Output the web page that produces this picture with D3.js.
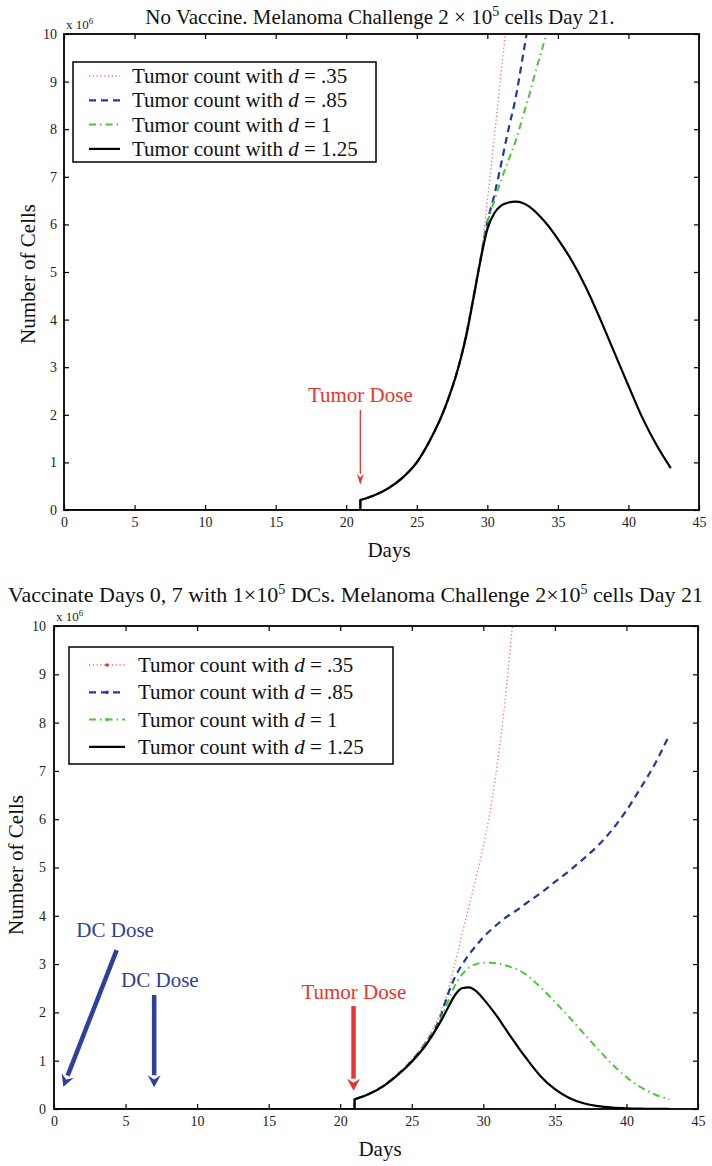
<!DOCTYPE html>
<html>
<head>
<meta charset="utf-8">
<script src="https://d3js.org/d3.v7.min.js"></script>
<style>
  body { margin: 0; background: #fff; }
  svg text { font-family: "Liberation Serif", "DejaVu Serif", serif; }
</style>
</head>
<body>
<svg id="svg"></svg>
<script>
// ---------------------------------------------------- data (values in 1e6 cells)
var xTicks = [0, 5, 10, 15, 20, 25, 30, 35, 40, 45];
var yTicks = [0, 1, 2, 3, 4, 5, 6, 7, 8, 9, 10];
var dValues = [".35", ".85", "1", "1.25"];
var doseDay = 21;

// - top panel: no vaccine
var topDays  = [21, 22, 23, 24, 25, 26, 27, 28, 28.5, 29, 29.5, 30, 30.5, 31, 31.5, 32, 32.5, 33, 33.5, 34, 34.5, 35, 36, 37, 38, 39, 40, 41, 42, 43];
var topD035  = [0.21, 0.31, 0.46, 0.68, 1.0, 1.5, 2.15, 3.08, 3.72, 4.5, 5.25, 6.5, 7.85, 9.25, 10.7, null, null, null, null, null, null, null, null, null, null, null, null, null, null, null];
var topD085  = [0.21, 0.31, 0.46, 0.68, 1.0, 1.5, 2.15, 3.06, 3.68, 4.45, 5.25, 6.05, 6.62, 7.3, 8.0, 8.65, 9.5, 10.4, null, null, null, null, null, null, null, null, null, null, null, null];
var topD1    = [0.21, 0.31, 0.46, 0.68, 1.0, 1.5, 2.15, 3.06, 3.68, 4.45, 5.25, 6.02, 6.5, 6.95, 7.35, 7.75, 8.25, 8.75, 9.3, 9.8, 10.3, null, null, null, null, null, null, null, null, null];
var topD125  = [0.21, 0.31, 0.46, 0.68, 1.0, 1.5, 2.15, 3.05, 3.65, 4.42, 5.22, 5.9, 6.24, 6.4, 6.46, 6.48, 6.45, 6.37, 6.24, 6.08, 5.9, 5.69, 5.23, 4.67, 4.01, 3.31, 2.61, 1.93, 1.36, 0.88];

// - bottom panel: vaccinate days 0, 7
var botDays  = [21, 22, 23, 24, 25, 26, 27, 27.5, 28, 28.5, 29, 29.5, 30, 30.5, 31, 31.5, 32, 32.5, 33, 34, 35, 36, 37, 38, 39, 40, 41, 42, 43];
var botD035  = [0.2, 0.31, 0.48, 0.72, 1.02, 1.42, 2.0, 2.42, 3.0, 3.6, 4.2, 4.8, 5.45, 6.2, 7.2, 8.4, 9.9, 11.5, null, null, null, null, null, null, null, null, null, null, null];
var botD085  = [0.2, 0.31, 0.48, 0.71, 1.0, 1.38, 1.9, 2.35, 2.72, 2.98, 3.2, 3.38, 3.56, 3.7, 3.83, 3.95, 4.05, 4.15, 4.26, 4.47, 4.7, 4.93, 5.18, 5.45, 5.78, 6.18, 6.65, 7.15, 7.75];
var botD1    = [0.2, 0.31, 0.47, 0.7, 0.99, 1.36, 1.85, 2.2, 2.55, 2.78, 2.93, 3.0, 3.03, 3.03, 3.01, 2.98, 2.93, 2.87, 2.78, 2.52, 2.22, 1.9, 1.57, 1.24, 0.93, 0.66, 0.45, 0.3, 0.2];
var botD125  = [0.2, 0.31, 0.47, 0.7, 0.98, 1.33, 1.8, 2.08, 2.35, 2.5, 2.52, 2.44, 2.28, 2.1, 1.9, 1.68, 1.46, 1.25, 1.05, 0.68, 0.41, 0.23, 0.12, 0.06, 0.03, 0.015, 0.007, 0.003, 0.001];

// - annotations: [day, value] pairs (value in 1e6)
var topTumorArrow = [[21, 2.1], [21, 0.53]];
var botDcArrow1 = [[4.38, 3.29], [0.65, 0.46]];
var botDcArrow2 = [[7.0, 2.36], [7.0, 0.45]];
var botTumorArrow = [[20.93, 2.13], [20.93, 0.38]];

// ---------------------------------------------------- styles
var seriesStyle = [
    { color: "#f26b6b", width: 1.3, dash: "1.2,2.6", dot: "#e8302a" },
    { color: "#1f3a9e", width: 2.2, dash: "7,5",     dot: "#1f3a9e" },
    { color: "#4cc63a", width: 2.0, dash: "7,4,1.5,4", dot: "#4cc63a" },
    { color: "#000000", width: 2.2, dash: null,      dot: null }
];
var annBlue = "#2e3f9e";
var annRed = "#e8362c";

var svg = d3.select("svg#svg")
    .attr("width", 712)
    .attr("height", 1166)
    .style("background-color", "white");

// ---------------------------------------------------- panel drawing
function drawPanel(cfg) {
    var x = d3.scaleLinear().domain([0, 45]).range([cfg.left, cfg.right]);
    var y = d3.scaleLinear().domain([0, 10]).range([cfg.bottom, cfg.top]);
    var g = svg.append("g").attr("id", cfg.id);

    // - clip for the plot area
    g.append("clipPath").attr("id", cfg.id + "-clip")
        .append("rect")
        .attr("x", cfg.left).attr("y", cfg.top)
        .attr("width", cfg.right - cfg.left).attr("height", cfg.bottom - cfg.top);

    // - axes, ticks inward (matlab style)
    g.append("g").attr("class", "xaxis")
        .attr("transform", "translate(0," + cfg.bottom + ")")
        .call(d3.axisBottom(x).tickValues(xTicks).tickSize(-5).tickPadding(7).tickFormat(d3.format("d")));
    g.append("g").attr("class", "xaxis-top")
        .attr("transform", "translate(0," + cfg.top + ")")
        .call(d3.axisTop(x).tickValues(xTicks).tickSize(-5).tickFormat(""));
    g.append("g").attr("class", "yaxis")
        .attr("transform", "translate(" + cfg.left + ",0)")
        .call(d3.axisLeft(y).tickValues(yTicks).tickSize(-5).tickPadding(cfg.yPad).tickFormat(d3.format("d")));
    g.append("g").attr("class", "yaxis-right")
        .attr("transform", "translate(" + cfg.right + ",0)")
        .call(d3.axisRight(y).tickValues(yTicks).tickSize(-5).tickFormat(""));
    g.selectAll(".domain").remove();
    g.selectAll(".tick line").attr("stroke", "#000").attr("stroke-width", 1.2);
    g.selectAll(".tick text")
        .style("font-family", "'Liberation Serif', serif")
        .style("font-size", "14px")
        .attr("fill", "#222");

    // - curves
    var plot = g.append("g").attr("clip-path", "url(#" + cfg.id + "-clip)");
    var line = d3.line()
        .defined(function(d) { return d[1] != null; })
        .x(function(d) { return x(d[0]); })
        .y(function(d) { return y(d[1]); })
        .curve(d3.curveMonotoneX);

    cfg.series.forEach(function(vals, i) {
        var pts = cfg.days.map(function(day, j) { return [day, vals[j]]; });
        // - flat before the tumour dose, then a jump
        var pre = "M" + x(0) + "," + y(0) + "L" + x(doseDay) + "," + y(0);
        var path = pre + line(pts).replace(/^M/, "L");
        var st = seriesStyle[i];
        plot.append("path")
            .attr("d", path)
            .attr("fill", "none")
            .attr("stroke", st.color)
            .attr("stroke-width", st.width)
            .attr("stroke-dasharray", st.dash)
            .attr("stroke-linejoin", "round");
    });

    // - frame
    g.append("rect")
        .attr("x", cfg.left).attr("y", cfg.top)
        .attr("width", cfg.right - cfg.left).attr("height", cfg.bottom - cfg.top)
        .attr("fill", "none").attr("stroke", "#000").attr("stroke-width", 1.8);

    // - x 10^6 multiplier
    var mult = g.append("text")
        .attr("x", cfg.left + 2).attr("y", cfg.top - 5)
        .style("font-size", "13px").attr("fill", "#222");
    mult.append("tspan").text("x 10");
    mult.append("tspan").attr("dy", -5).style("font-size", "9px").text("6");

    // - axis titles
    g.append("text")
        .attr("x", cfg.daysX).attr("y", cfg.bottom + 47)
        .attr("text-anchor", "middle")
        .style("font-size", "21px").attr("fill", "#111")
        .text("Days");
    g.append("text")
        .attr("transform", "translate(" + cfg.ylabX + "," + cfg.ylabY + ") rotate(-90)")
        .attr("text-anchor", "middle")
        .style("font-size", "21px").attr("fill", "#111")
        .text("Number of Cells");

    // - legend
    var lg = g.append("g");
    lg.append("rect")
        .attr("x", cfg.legend.x).attr("y", cfg.legend.y)
        .attr("width", cfg.legend.w).attr("height", cfg.legend.h)
        .attr("fill", "white").attr("stroke", "#000").attr("stroke-width", 1.5);
    dValues.forEach(function(dv, i) {
        var st = seriesStyle[i];
        var ry = cfg.legend.y + cfg.legend.row0 + i * cfg.legend.step;
        lg.append("line")
            .attr("x1", cfg.legend.s0).attr("x2", cfg.legend.s1)
            .attr("y1", ry).attr("y2", ry)
            .attr("stroke", st.color).attr("stroke-width", st.width)
            .attr("stroke-dasharray", st.dash);
        if (cfg.legend.dots && st.dot) {
            lg.append("circle")
                .attr("cx", (cfg.legend.s0 + cfg.legend.s1) / 2).attr("cy", ry)
                .attr("r", 1.8).attr("fill", st.dot);
        }
        var t = lg.append("text")
            .attr("x", cfg.legend.tx).attr("y", ry + 7)
            .style("font-size", "21px").attr("fill", "#111");
        t.append("tspan").text("Tumor count with ");
        t.append("tspan").style("font-style", "italic").text("d");
        t.append("tspan").text(" = " + dv);
    });

    return { x: x, y: y, g: g };
}

// - arrow from [day,val] to [day,val], with a filled head
function arrow(p, a, color, width, headL, headW) {
    var x0 = p.x(a[0][0]), y0 = p.y(a[0][1]);
    var x1 = p.x(a[1][0]), y1 = p.y(a[1][1]);
    var ang = Math.atan2(y1 - y0, x1 - x0);
    var bx = x1 - headL * Math.cos(ang), by = y1 - headL * Math.sin(ang);
    p.g.append("line")
        .attr("x1", x0).attr("y1", y0).attr("x2", bx).attr("y2", by)
        .attr("stroke", color).attr("stroke-width", width);
    var nx = -Math.sin(ang) * headW / 2, ny = Math.cos(ang) * headW / 2;
    p.g.append("path")
        .attr("d", "M" + x1 + "," + y1 + "L" + (bx + nx) + "," + (by + ny) +
                   "L" + (bx + headL * 0.35 * Math.cos(ang)) + "," + (by + headL * 0.35 * Math.sin(ang)) +
                   "L" + (bx - nx) + "," + (by - ny) + "Z")
        .attr("fill", color);
}

function label(p, day, val, txt, color) {
    p.g.append("text")
        .attr("x", p.x(day)).attr("y", p.y(val))
        .attr("text-anchor", "middle")
        .style("font-size", "21px").attr("fill", color)
        .text(txt);
}

// ---------------------------------------------------- top panel
var topPanel = drawPanel({
    id: "top", left: 64, right: 699, top: 34, bottom: 510, yPad: 7,
    days: topDays, series: [topD035, topD085, topD1, topD125],
    daysX: 389, ylabX: 35, ylabY: 274,
    legend: { x: 73, y: 62, w: 303, h: 100, row0: 14, step: 24.3, s0: 89, s1: 120, tx: 132, dots: false }
});
var t1 = svg.append("text")
    .attr("x", 380).attr("y", 24)
    .attr("text-anchor", "middle")
    .style("font-size", "21px").attr("fill", "#111");
t1.append("tspan").text("No Vaccine. Melanoma Challenge 2 \u00d7 10");
t1.append("tspan").attr("dy", -8).style("font-size", "14px").text("5");
t1.append("tspan").attr("dy", 8).text(" cells Day 21.");

arrow(topPanel, topTumorArrow, annRed, 1.3, 11, 7);
label(topPanel, 21, 2.27, "Tumor Dose", annRed);

// ---------------------------------------------------- bottom panel
var botPanel = drawPanel({
    id: "bot", left: 54, right: 698, top: 626, bottom: 1109, yPad: 8,
    days: botDays, series: [botD035, botD085, botD1, botD125],
    daysX: 380, ylabX: 23, ylabY: 865,
    legend: { x: 69, y: 647, w: 324, h: 117, row0: 18, step: 27.3, s0: 89, s1: 125, tx: 138, dots: true }
});
var t2 = svg.append("text")
    .attr("x", 8).attr("y", 602)
    .style("font-size", "22px").attr("fill", "#111");
t2.append("tspan").text("Vaccinate Days 0, 7 with 1\u00d710");
t2.append("tspan").attr("dy", -8).style("font-size", "14px").text("5");
t2.append("tspan").attr("dy", 8).text(" DCs. Melanoma Challenge 2\u00d710");
t2.append("tspan").attr("dy", -8).style("font-size", "14px").text("5");
t2.append("tspan").attr("dy", 8).text(" cells Day 21");

arrow(botPanel, botDcArrow1, annBlue, 4.5, 12, 13);
arrow(botPanel, botDcArrow2, annBlue, 4.5, 12, 13);
arrow(botPanel, botTumorArrow, annRed, 4.5, 12, 13);
label(botPanel, 4.27, 3.56, "DC Dose", annBlue);
label(botPanel, 7.4, 2.53, "DC Dose", annBlue);
label(botPanel, 20.95, 2.28, "Tumor Dose", annRed);
</script>
</body>
</html>
